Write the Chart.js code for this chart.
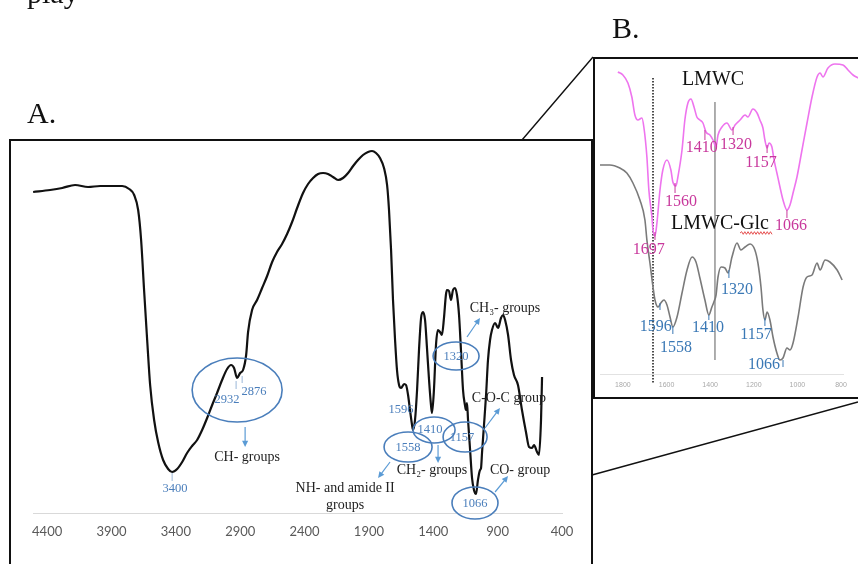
<!DOCTYPE html>
<html lang="en">
<head>
<meta charset="UTF-8">
<title>FTIR spectra of LMWC and LMWC-Glc</title>
<script src="https://cdn.jsdelivr.net/npm/chart.js"></script>
<style>
    body {
        margin: 0;
        width: 858px;
        height: 564px;
        overflow: hidden;
        position: relative;
        background: #fff;
        font-family: "Liberation Serif", "Times New Roman", serif;
    }
    canvas { position: absolute; }
    #chartA { left: 0; top: 0; }
    #chartB { left: 593px; top: 57px; }
    .tag {
        position: absolute;
        font-size: 30px;
        line-height: 30px;
        color: #111;
        z-index: 2;
    }
</style>
</head>
<body>

<canvas id="chartA" width="858" height="564"></canvas>
<canvas id="chartB" width="265" height="342"></canvas>
<div class="tag" style="left:27px; top:-22px;">play</div>
<div class="tag" style="left:27px; top:98px;">A.</div>
<div class="tag" style="left:612px; top:13px;">B.</div>

<script>
    // panel A: full spectrum (wavenumber cm-1, transmittance a.u.)
    const aWavenumber = [4509,4377,4283,4183,4082,3988,3895,3817,3763,3724,
        3693,3670,3647,3623,3600,3569,3538,3499,3460,3429,
        3390,3351,3313,3274,3235,3196,3157,3118,3080,3041,
        3002,2971,2948,2924,2901,2878,2854,2839,2808,2769,
        2730,2691,2652,2614,2575,2536,2497,2458,2412,2373,
        2334,2295,2256,2218,2179,2140,2101,2062,2023,1985,
        1946,1907,1876,1845,1814,1783,1759,1744,1728,1713,
        1697,1682,1666,1650,1627,1612,1596,1581,1565,1557,
        1542,1526,1511,1495,1480,1464,1449,1433,1418,1410,
        1395,1379,1364,1348,1333,1317,1302,1294,1278,1263,
        1247,1232,1216,1200,1185,1169,1154,1146,1138,1130,
        1114,1099,1084,1068,1053,1037,1029,1021,1006,990,
        975,959,944,920,897,874,858,842,819,796,
        773,742,711,680,656,633,617,594,579,563,
        555];
    const aTransmittance = [321,323,325,328,326,327,327,327,324,318,
        303,273,223,173,128,93,71,53,44,41,
        44,51,60,67,73,83,95,108,120,133,
        144,148,145,135,140,143,158,181,203,213,
        225,237,251,261,269,279,291,305,320,329,
        335,339,340,339,336,333,335,340,347,353,
        358,361,362,360,355,345,328,303,263,213,
        173,143,128,125,129,128,118,103,88,83,
        93,123,163,195,201,193,165,133,108,100,
        123,168,183,181,178,195,218,223,222,213,
        223,225,218,198,163,123,108,103,110,93,
        63,35,23,19,33,43,45,61,88,118,
        153,173,183,190,185,195,198,193,178,153,
        138,128,103,81,66,65,68,61,58,93,
        136];
    const aTicks = [4400, 3900, 3400, 2900, 2400, 1900, 1400, 900, 400];

    // panel A annotations
    const aEllipses = [[2924,123,45,32],[1223,157,23,14],[1596,66,24,15],[1394,83,21,13],[1153,76,22,15],[1076,10,23,16]];
    const aPeakLabels = [['3400',3406,24],['2932',3002,113],['2876',2792,121],['1596',1650,103],['1558',1596,65],
        ['1410',1425,83],['1157',1177,75],['1320',1223,156],['1066',1076,9]];
    const aPeakMarks = [[3429,40,32],[2932,132,124],[2885,137,130]];
    const aGroupLabels = [['CH- groups',2847,56],['CH\u2083- groups',843,205],['C-O-C group',812,115],
        ['CH\u2082- groups',1410,43],['NH- and amide II',2085,25],['groups',2085,8],['CO- group',726,43]];
    const aArrows = [[2862,86,2862,66],[1138,176,1037,195],[1363,68,1363,50],[1736,51,1829,35],[998,85,882,105],[920,21,819,37]];

    // panel B: 1800-800 region, two samples
    const lmwcWavenumber = [1823,1800,1777,1759,1745,1731,1713,1704,1690,1681,
        1667,1662,1653,1644,1630,1617,1598,1580,1571,1557,
        1548,1529,1516,1502,1488,1474,1461,1447,1433,1419,
        1401,1387,1373,1364,1346,1323,1300,1286,1263,1240,
        1227,1204,1185,1172,1158,1149,1139,1130,1117,1107,
        1094,1080,1066,1048,1034,1020,1002,979,956,933,
        910,896,883,860,828,791,768,745,722];
    const lmwcT = [302,299,291,277,259,254,256,247,217,184,
        157,144,138,151,184,204,214,204,192,188,
        197,224,254,271,275,267,257,254,251,242,
        239,234,227,239,247,251,244,249,254,259,
        257,265,261,254,246,234,226,231,227,214,
        201,187,174,164,169,181,197,224,251,277,
        297,301,297,306,310,309,304,299,296];
    const glcWavenumber = [1905,1860,1814,1782,1754,1722,1699,1690,1676,1662,
        1653,1639,1626,1612,1598,1584,1571,1552,1529,1506,
        1483,1465,1447,1424,1406,1392,1383,1373,1364,1350,
        1332,1318,1300,1277,1259,1240,1217,1195,1181,1167,
        1158,1149,1139,1126,1112,1094,1080,1066,1048,1034,
        1020,997,974,956,933,910,896,873,851,818,
        795];
    const glcT = [209,209,206,201,191,174,154,134,111,87,
        74,67,71,74,69,57,47,57,81,104,
        117,112,96,74,59,67,72,79,97,107,
        106,101,117,131,124,127,130,124,111,87,
        64,54,62,54,37,21,14,16,26,24,
        31,57,87,97,99,111,104,114,112,104,
        94];
    const bTicks = [1800, 1600, 1400, 1200, 1000, 800];
    const bDotted = [1662, 296, -9];
    const bSolid = [1378, 272, 14];

    const bPinkLabels = [['1410',1438,226],['1320',1282,229],['1157',1167,211],['1560',1534,172],['1066',1029,148],['1697',1681,124]];
    const bPinkMarks = [[1424,244,234],[1295,247,239],[1139,229,221],[1561,191,181],[1048,164,156],[1653,142,134]];
    const bBlueLabels = [['1596',1649,47],['1558',1557,26],['1410',1410,46],['1320',1277,84],['1157',1190,39],['1066',1153,9]];
    const bBlueMarks = [[1630,71,64],[1571,48,40],[1406,59,54],[1314,104,96],[1149,56,48],[1066,14,7]];
    const bNames = [['LMWC',1387,294],['LMWC-Glc',1355,150]];

    const serif = '"Liberation Serif", "Times New Roman", serif';
    const blue = '#4a7ebb';
    const pink = '#c8389c';

    function toPoints(xs, ys) {
        return xs.map((x, i) => ({ x: x, y: ys[i] }));
    }

    function arrow(ctx, x1, y1, x2, y2) {
        let a = Math.atan2(y2 - y1, x2 - x1), h = 7;
        ctx.beginPath();
        ctx.moveTo(x1, y1);
        ctx.lineTo(x2 - Math.cos(a) * h * 0.6, y2 - Math.sin(a) * h * 0.6);
        ctx.stroke();
        ctx.beginPath();
        ctx.moveTo(x2, y2);
        ctx.lineTo(x2 - h * Math.cos(a - 0.45), y2 - h * Math.sin(a - 0.45));
        ctx.lineTo(x2 - h * Math.cos(a + 0.45), y2 - h * Math.sin(a + 0.45));
        ctx.closePath();
        ctx.fill();
    }

    // draws labels, ellipses, arrows at data positions
    const notes = {
        id: 'notes',
        afterDatasetsDraw(chart, args, o) {
            let ctx = chart.ctx;
            let X = v => chart.scales.x.getPixelForValue(v);
            let Y = v => chart.scales.y.getPixelForValue(v);
            ctx.save();
            (o.ellipses || []).forEach(([w, v, rx, ry]) => {
                ctx.beginPath();
                ctx.ellipse(X(w), Y(v), rx, ry, 0, 0, Math.PI * 2);
                ctx.strokeStyle = o.ellipseColor;
                ctx.lineWidth = 1.6;
                ctx.stroke();
            });
            (o.marks || []).forEach(([w, v1, v2, c]) => {
                ctx.beginPath();
                ctx.moveTo(X(w), Y(v1));
                ctx.lineTo(X(w), Y(v2));
                ctx.strokeStyle = c;
                ctx.lineWidth = 1;
                ctx.stroke();
            });
            ctx.strokeStyle = '#5b9bd5';
            ctx.fillStyle = '#5b9bd5';
            ctx.lineWidth = 1.2;
            (o.arrows || []).forEach(([w1, v1, w2, v2]) => arrow(ctx, X(w1), Y(v1), X(w2), Y(v2)));
            ctx.textAlign = 'center';
            ctx.textBaseline = 'middle';
            (o.labels || []).forEach(([t, w, v, c, f]) => {
                ctx.fillStyle = c;
                ctx.font = f;
                ctx.fillText(t, X(w), Y(v));
            });
            if (o.squiggle) {
                let [w1, w2, v] = o.squiggle;
                let x = X(w1), y = Y(v), end = X(w2), up = true;
                ctx.beginPath();
                ctx.moveTo(x, y);
                while (x < end) {
                    x += 1.6;
                    ctx.lineTo(x, up ? y - 1.3 : y + 1.3);
                    up = !up;
                }
                ctx.strokeStyle = '#e23a3a';
                ctx.lineWidth = 0.9;
                ctx.stroke();
            }
            ctx.restore();
        }
    };

    // frame of panel A and the zoom connector lines
    const frameA = {
        id: 'frameA',
        afterDraw(chart) {
            let ctx = chart.ctx;
            ctx.save();
            ctx.strokeStyle = '#111';
            ctx.lineWidth = 2;
            ctx.beginPath();
            ctx.moveTo(10, 570);
            ctx.lineTo(10, 140);
            ctx.lineTo(592, 140);
            ctx.lineTo(592, 570);
            ctx.stroke();
            ctx.lineWidth = 1.4;
            ctx.beginPath();
            ctx.moveTo(522, 140);
            ctx.lineTo(593, 57);
            ctx.moveTo(592, 475);
            ctx.lineTo(858, 402);
            ctx.stroke();
            ctx.restore();
        }
    };

    const frameB = {
        id: 'frameB',
        beforeDraw(chart) {
            let ctx = chart.ctx;
            ctx.save();
            ctx.fillStyle = '#fff';
            ctx.fillRect(0, 0, chart.width, chart.height);
            ctx.restore();
        },
        afterDraw(chart) {
            let ctx = chart.ctx;
            ctx.save();
            ctx.strokeStyle = '#111';
            ctx.lineWidth = 2;
            ctx.beginPath();
            ctx.moveTo(chart.width + 2, 1);
            ctx.lineTo(1, 1);
            ctx.lineTo(1, chart.height - 1);
            ctx.lineTo(chart.width + 2, chart.height - 1);
            ctx.stroke();
            ctx.restore();
        }
    };

    let aLabels = aPeakLabels.map(l => [l[0], l[1], l[2], blue, '12.5px ' + serif])
        .concat(aGroupLabels.map(l => [l[0], l[1], l[2], '#222', '14px ' + serif]));

    new Chart(document.getElementById('chartA'), {
        type: 'line',
        data: {
            datasets: [{
                data: toPoints(aWavenumber, aTransmittance),
                borderColor: '#111',
                borderWidth: 2.2,
                pointRadius: 0,
                cubicInterpolationMode: 'monotone'
            }]
        },
        options: {
            responsive: false,
            animation: false,
            events: [],
            layout: { padding: { left: 33, right: 296, top: 140, bottom: 21 } },
            plugins: {
                legend: { display: false },
                tooltip: { enabled: false },
                notes: {
                    ellipses: aEllipses,
                    ellipseColor: blue,
                    marks: aPeakMarks.map(m => [m[0], m[1], m[2], '#9bb7d8']),
                    arrows: aArrows,
                    labels: aLabels
                }
            },
            scales: {
                x: {
                    type: 'linear',
                    reverse: true,
                    min: 400,
                    max: 4510,
                    afterBuildTicks: s => { s.ticks = aTicks.map(v => ({ value: v })); },
                    afterFit: s => { s.height = 30; },
                    grid: { display: false, drawTicks: false },
                    border: { display: true, color: '#d9d9d9', width: 1 },
                    ticks: {
                        padding: 11, color: '#595959', font: { family: 'Lato', size: 13 },
                        maxRotation: 0, autoSkip: false,
                        callback: v => String(v)
                    }
                },
                y: { display: false, min: 0, max: 373 }
            }
        },
        plugins: [notes, frameA]
    });

    let bLabels = bPinkLabels.map(l => [l[0], l[1], l[2], pink, '16px ' + serif])
        .concat(bBlueLabels.map(l => [l[0], l[1], l[2], '#3a78b5', '16px ' + serif]))
        .concat(bNames.map(l => [l[0], l[1], l[2], '#111', '20px ' + serif]));
    let bMarks = bPinkMarks.map(m => [m[0], m[1], m[2], pink])
        .concat(bBlueMarks.map(m => [m[0], m[1], m[2], '#3a78b5']));

    new Chart(document.getElementById('chartB'), {
        type: 'line',
        data: {
            datasets: [{
                label: 'LMWC',
                data: toPoints(lmwcWavenumber, lmwcT),
                borderColor: '#ee74ee',
                borderWidth: 1.6,
                pointRadius: 0,
                cubicInterpolationMode: 'monotone',
                clip: false
            }, {
                label: 'LMWC-Glc',
                data: toPoints(glcWavenumber, glcT),
                borderColor: '#7a7a7a',
                borderWidth: 1.6,
                pointRadius: 0,
                cubicInterpolationMode: 'monotone',
                clip: false
            }, {
                data: [{ x: bDotted[0], y: bDotted[1] }, { x: bDotted[0], y: bDotted[2] }],
                borderColor: '#222',
                borderWidth: 1.6,
                borderDash: [1.5, 1.5],
                pointRadius: 0,
                clip: false
            }, {
                data: [{ x: bSolid[0], y: bSolid[1] }, { x: bSolid[0], y: bSolid[2] }],
                borderColor: '#9a9a9a',
                borderWidth: 1.6,
                pointRadius: 0,
                clip: false
            }]
        },
        options: {
            responsive: false,
            animation: false,
            events: [],
            layout: { padding: { left: 7, right: 15, top: 0, bottom: 0 } },
            plugins: {
                legend: { display: false },
                tooltip: { enabled: false },
                notes: {
                    marks: bMarks,
                    labels: bLabels,
                    squiggle: [1263, 1117, 141]
                }
            },
            scales: {
                x: {
                    type: 'linear',
                    reverse: true,
                    min: 791,
                    max: 1905,
                    afterBuildTicks: s => { s.ticks = bTicks.map(v => ({ value: v })); },
                    afterFit: s => { s.height = 25; },
                    grid: { display: false, drawTicks: false },
                    border: { display: true, color: '#e2e2e2', width: 1 },
                    ticks: {
                        padding: 7, color: '#a8a8a8', font: { family: 'Liberation Sans', size: 7 },
                        maxRotation: 0, autoSkip: false,
                        callback: v => String(v)
                    }
                },
                y: { display: false, min: 0, max: 317 }
            }
        },
        plugins: [notes, frameB]
    });
</script>

</body>
</html>
